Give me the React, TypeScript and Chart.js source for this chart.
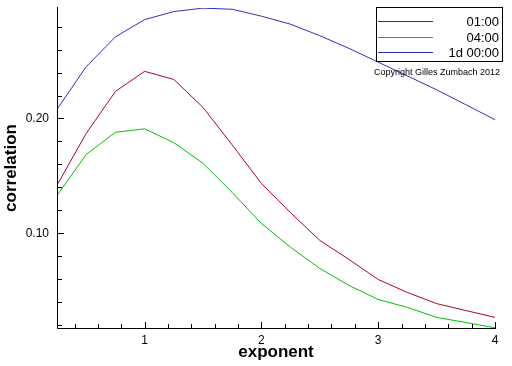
import React, { useEffect, useRef } from "react";
import { Chart, registerables } from "chart.js";

Chart.register(...registerables);

const exponents = [0.25, 0.5, 0.75, 1.0, 1.25, 1.5, 1.75, 2.0, 2.25, 2.5, 2.75, 3.0, 3.25, 3.5, 3.75, 4.0];
const corr0100 = [0.142, 0.187, 0.2235, 0.241, 0.234, 0.2096, 0.177, 0.1435, 0.118, 0.094, 0.0774, 0.06, 0.0487, 0.039, 0.033, 0.027];
const corr0400 = [0.133, 0.1687, 0.188, 0.191, 0.179, 0.161, 0.1357, 0.1087, 0.088, 0.0696, 0.0548, 0.0426, 0.0357, 0.027, 0.0226, 0.018];
const corr1d = [0.208, 0.245, 0.271, 0.286, 0.293, 0.296, 0.295, 0.289, 0.282, 0.272, 0.261, 0.249, 0.237, 0.225, 0.212, 0.199];
const seriesLabels = ["01:00", "04:00", "1d 00:00"];
const seriesColors = ["#b0002c", "#00c000", "#3030c0"];
const xTickLabels = [1, 2, 3, 4];
const yTickLabels = [0.1, 0.2];
const copyrightText = "Copyright Gilles Zumbach 2012";

const X_MIN = 0.25, X_MAX = 4;
const Y_MIN = 0.0178, Y_MAX = 0.2961;

const axesPlugin = {
  id: "customAxes",
  afterDatasetsDraw(chart: any) {
    const ctx = chart.ctx;
    const xs = chart.scales.x;
    const ys = chart.scales.y;
    const { left, right, top, bottom } = chart.chartArea;
    ctx.save();
    ctx.strokeStyle = "#000";
    ctx.lineWidth = 1;
    ctx.beginPath();
    ctx.moveTo(left + 0.5, top - 1);
    ctx.lineTo(left + 0.5, bottom + 0.5);
    ctx.lineTo(right + 1, bottom + 0.5);
    ctx.stroke();
    // y ticks (inside)
    for (let i = 1; i <= 14; i++) {
      const v = i * 0.02;
      if (v < Y_MIN || v > Y_MAX) continue;
      const major = i % 5 === 0;
      const py = Math.round(ys.getPixelForValue(v)) + 0.5;
      ctx.beginPath();
      ctx.moveTo(left, py);
      ctx.lineTo(left + (major ? 7 : 5), py);
      ctx.stroke();
    }
    // x ticks (inside)
    for (let i = 2; i <= 20; i++) {
      const v = i * 0.2;
      if (v < X_MIN || v > X_MAX + 1e-9) continue;
      const major = i % 5 === 0;
      const px = Math.round(xs.getPixelForValue(v)) + 0.5;
      ctx.beginPath();
      ctx.moveTo(px, bottom);
      ctx.lineTo(px, bottom - (major ? 6 : 4));
      ctx.stroke();
    }
    // legend box
    const bx = 376, by = 7, bw = 126, bh = 54;
    ctx.fillStyle = "#fff";
    ctx.fillRect(bx, by, bw, bh);
    ctx.strokeStyle = "#000";
    ctx.strokeRect(bx + 0.5, by + 0.5, bw, bh);
    const rows = [21, 37, 52];
    ctx.font = "13px 'Liberation Sans', Arial, sans-serif";
    ctx.textAlign = "right";
    ctx.textBaseline = "alphabetic";
    for (let i = 0; i < 3; i++) {
      ctx.strokeStyle = seriesColors[i];
      ctx.beginPath();
      ctx.moveTo(378, rows[i] + 0.5);
      ctx.lineTo(433, rows[i] + 0.5);
      ctx.stroke();
      ctx.fillStyle = "#000";
      ctx.fillText(seriesLabels[i], 499, rows[i] + 5);
    }
    ctx.font = "9px 'Liberation Sans', Arial, sans-serif";
    ctx.fillText(copyrightText, 500, 75);
    ctx.restore();
  },
};

export default function App() {
  const ref = useRef<HTMLCanvasElement>(null);
  useEffect(() => {
    if (!ref.current) return;
    const mk = (d: number[]) => exponents.map((x, i) => ({ x, y: d[i] }));
    const chart = new Chart(ref.current, {
      type: "line",
      data: {
        datasets: [corr0100, corr0400, corr1d].map((d, i) => ({
          label: seriesLabels[i],
          data: mk(d),
          borderColor: seriesColors[i],
          backgroundColor: seriesColors[i],
          borderWidth: 1,
          pointRadius: 0,
          tension: 0,
          fill: false,
        })),
      },
      options: {
        responsive: false,
        animation: false,
        events: [],
        layout: { padding: { left: 0, top: 8, right: 17, bottom: 0 } },
        plugins: { legend: { display: false }, tooltip: { enabled: false }, title: { display: false } },
        scales: {
          x: {
            type: "linear",
            min: X_MIN,
            max: X_MAX,
            grid: { display: false, drawTicks: false },
            border: { display: false },
            afterBuildTicks: (s: any) => { s.ticks = xTickLabels.map((v) => ({ value: v })); },
            afterFit: (s: any) => { s.height = 38; s.paddingLeft = 0; s.paddingRight = 0; },
            ticks: {
              padding: 5,
              color: "#000",
              maxRotation: 0,
              font: { family: "'Liberation Sans', Arial, sans-serif", size: 12 },
              callback: (v: any) => String(v),
            },
            title: {
              display: true,
              text: "exponent",
              color: "#000",
              padding: { top: 0, bottom: 3 },
              font: { family: "'Liberation Sans', Arial, sans-serif", size: 17, weight: "bold" },
            },
          },
          y: {
            type: "linear",
            min: Y_MIN,
            max: Y_MAX,
            grid: { display: false, drawTicks: false },
            border: { display: false },
            afterBuildTicks: (s: any) => { s.ticks = yTickLabels.map((v) => ({ value: v })); },
            afterFit: (s: any) => { s.width = 57; s.paddingTop = 0; s.paddingBottom = 0; },
            ticks: {
              padding: 8,
              color: "#000",
              font: { family: "'Liberation Sans', Arial, sans-serif", size: 12 },
              callback: (v: any) => Number(v).toFixed(2),
            },
            title: {
              display: true,
              text: "correlation",
              color: "#000",
              padding: { top: 1, bottom: 0 },
              font: { family: "'Liberation Sans', Arial, sans-serif", size: 17, weight: "bold" },
            },
          },
        },
      },
      plugins: [axesPlugin],
    });
    return () => chart.destroy();
  }, []);
  return (
    <div style={{ position: "fixed", left: 0, top: 0, width: 512, height: 366, background: "#fff" }}>
      <canvas ref={ref} width={512} height={366} style={{ display: "block" }} />
    </div>
  );
}
